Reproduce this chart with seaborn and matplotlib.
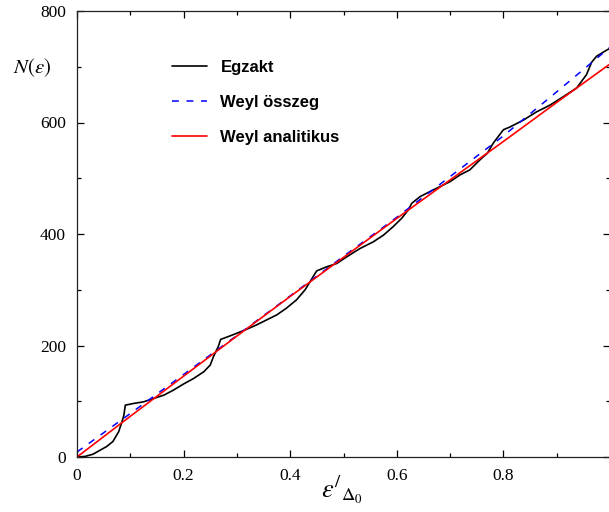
import numpy as np
import pandas as pd
import matplotlib
matplotlib.use("Agg")
import matplotlib.pyplot as plt
import seaborn as sns

# Egzakt (staircase) curve
eps_egzakt = [0.0, 0.015, 0.03, 0.043, 0.056, 0.0675, 0.078, 0.084, 0.088, 0.0906,
              0.106, 0.125, 0.144, 0.163, 0.181, 0.2, 0.219, 0.238, 0.25, 0.256,
              0.261, 0.265, 0.2695, 0.281, 0.3, 0.318, 0.337, 0.356, 0.375, 0.393,
              0.412, 0.428, 0.437, 0.4465, 0.45, 0.468, 0.487, 0.506, 0.531, 0.556,
              0.575, 0.593, 0.609, 0.6215, 0.628, 0.6435, 0.662, 0.681, 0.7, 0.7186,
              0.737, 0.756, 0.77, 0.781, 0.8, 0.8124, 0.837, 0.862, 0.887, 0.912,
              0.9375, 0.956, 0.9655, 0.975, 0.994, 1.0]
n_egzakt = [0, 1, 5, 12, 19, 28, 45, 62, 75, 93,
            96, 99, 105, 111, 120, 131, 141, 153, 165, 180,
            190, 198, 211, 215, 222, 229, 237, 246, 255, 267,
            282, 300, 314, 329, 334, 341, 347, 359, 374, 386,
            398, 413, 428, 443, 455, 467, 476, 485, 494, 506,
            515, 533, 545, 563, 587, 592, 604, 619, 631, 646,
            662, 686, 708, 719, 730, 733]

# Weyl osszeg (dashed) and Weyl analitikus (smooth)
eps_weyl = [0.0, 0.1, 0.2, 0.3, 0.4, 0.5, 0.6, 0.7, 0.8, 0.9, 1.0]
n_weyl_sum = [9, 78, 148, 218, 289, 360, 430, 503, 576, 655, 735]
n_weyl_an = [0, 73, 145, 217, 288, 358, 428, 497, 566, 636, 705]

x_ticks = [0, 0.2, 0.4, 0.6, 0.8, 1.0]
x_ticklabels = ["0", "0.2", "0.4", "0.6", "0.8", ""]
y_ticks = [0, 200, 400, 600, 800]

sns.set_style("ticks")
plt.rcParams["mathtext.fontset"] = "stix"
plt.rcParams["font.family"] = ["Liberation Serif", "DejaVu Serif"]
plt.rcParams["text.color"] = "black"
plt.rcParams["xtick.color"] = "black"
plt.rcParams["ytick.color"] = "black"

fig = plt.figure(figsize=(6.09, 5.12), dpi=100)
ax = fig.add_axes([77 / 609, 55 / 512, 533 / 609, 446 / 512])

df_ex = pd.DataFrame({"eps": eps_egzakt, "N": n_egzakt})
df_w = pd.DataFrame({"eps": eps_weyl, "sum": n_weyl_sum, "an": n_weyl_an})

sns.lineplot(data=df_ex, x="eps", y="N", ax=ax, color="black", lw=1.2,
             label="Egzakt", sort=False)
sns.lineplot(data=df_w, x="eps", y="sum", ax=ax, color="#0000ff", lw=1.1,
             label="Weyl összeg")
sns.lineplot(data=df_w, x="eps", y="an", ax=ax, color="#ff0000", lw=1.2,
             label="Weyl analitikus")
ax.lines[1].set_dashes([4.5, 5])

ax.set_xlim(0, 1)
ax.set_ylim(0, 800)
ax.set_xticks(x_ticks, labels=x_ticklabels)
ax.set_xticks(np.arange(0.1, 1.0, 0.2), minor=True)
ax.set_yticks(y_ticks)
ax.set_yticks(np.arange(100, 800, 200), minor=True)
ax.tick_params(which="both", direction="in", top=True, right=True,
               labelsize=12.5, color="black", width=0.9)
ax.tick_params(which="major", length=5, pad=8)
ax.tick_params(which="minor", length=3)
for s in ax.spines.values():
    s.set_visible(True)
    s.set_linewidth(0.9)
    s.set_color("#222222")
ax.set_xlabel("")
ax.set_ylabel("")

leg = ax.legend(loc="upper left", bbox_to_anchor=(0.166, 0.905), frameon=False,
                prop={"family": "Liberation Sans", "weight": "bold", "size": 12},
                handlelength=2.1, handletextpad=0.8, labelspacing=1.2,
                borderaxespad=0)
for t in leg.get_texts():
    t.set_color("black")
leg.get_lines()[1].set_dashes([4.5, 5])

fig.text(32 / 609, 1 - 68 / 512, r"$N(\varepsilon)$", fontsize=15,
         ha="center", va="center")
fig.text(342 / 609, 1 - 490 / 512, r"$\varepsilon^{/}{}_{\Delta_0}$", fontsize=19,
         ha="center", va="center")

fig.savefig("out.png", dpi=100)
